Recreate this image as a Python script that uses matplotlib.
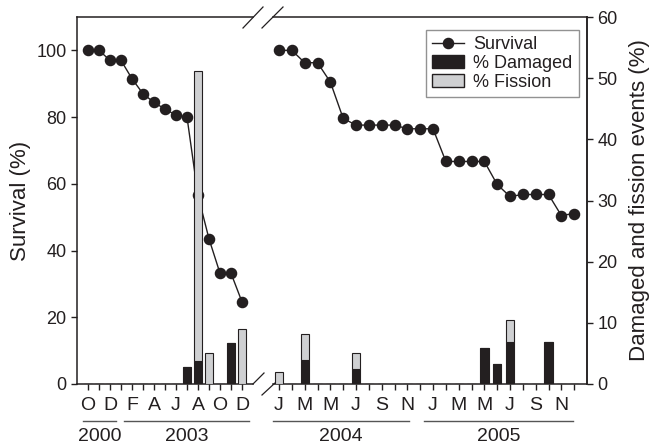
import matplotlib
matplotlib.use('Agg')
import matplotlib.pyplot as plt
from matplotlib.lines import Line2D
from matplotlib.patches import Patch
import matplotlib.transforms as mtransforms

plt.rcParams['font.family'] = ['Liberation Sans', 'DejaVu Sans']

# left block: Oct 2000 - Dec 2000, Jan 2003 - Dec 2003
months_left = ['O', '', 'D', '', 'F', '', 'A', '', 'J', '', 'A', '', 'O', '', 'D']
survival_left = [100, 100, 97, 97, 91.5, 87, 84.4, 82.4, 80.6, 80, 56.5, 43.5, 33.2, 33.2, 24.6]
damaged_left = [0, 0, 0, 0, 0, 0, 0, 0, 0, 2.8, 3.8, 0, 0, 6.7, 0]
fission_left = [0, 0, 0, 0, 0, 0, 0, 0, 0, 0, 47.3, 5.1, 0, 0, 9.0]

# right block: Jan 2004 - Dec 2005
months_right = ['J', '', 'M', '', 'M', '', 'J', '', 'S', '', 'N', ''] * 2
survival_right = [100, 100, 96.3, 96.3, 90.5, 79.6, 77.6, 77.6, 77.6, 77.6, 76.5, 76.5,
                  76.5, 66.7, 66.7, 66.7, 66.7, 59.8, 56.2, 56.8, 56.8, 56.8, 50.5, 51.1]
damaged_right = [0, 0, 3.9, 0, 0, 0, 2.45, 0, 0, 0, 0, 0,
                 0, 0, 0, 0, 5.9, 3.3, 6.9, 0, 0, 6.9, 0, 0]
fission_right = [1.9, 0, 4.2, 0, 0, 0, 2.55, 0, 0, 0, 0, 0,
                 0, 0, 0, 0, 0, 0, 3.6, 0, 0, 0, 0, 0]

years = ['2000', '2003', '2004', '2005']

W, H = 652, 445
ink = '#231f20'
grey = '#cfd0d2'

fig = plt.figure(figsize=(W / 100, H / 100), dpi=100)
bottom = (H - 384) / H
height = 367 / H
ax1 = fig.add_axes([77 / W, bottom, (253 - 77) / W, height])
ax2 = fig.add_axes([273 / W, bottom, (587 - 273) / W, height])
ax1b = ax1.twinx()
ax2b = ax2.twinx()


def draw_block(ax, axb, surv, dmg, fis, labels):
    x = list(range(len(surv)))
    ax.plot(x, surv, '-o', color=ink, lw=1.0, ms=7.3, zorder=3)
    axb.bar(x, dmg, width=0.65, color=ink, edgecolor=ink, lw=0.8)
    axb.bar(x, fis, width=0.65, bottom=dmg, color=grey, edgecolor=ink, lw=0.8)
    ax.set_ylim(0, 110)
    axb.set_ylim(0, 60)
    ax.set_xticks(x)
    ax.set_xticklabels(labels, fontsize=14, color=ink)
    ax.tick_params(axis='x', direction='out', length=4, width=1, pad=5, colors=ink)
    for sp in axb.spines.values():
        sp.set_visible(False)
    for sp in ax.spines.values():
        sp.set_linewidth(1.1)
        sp.set_color(ink)


draw_block(ax1, ax1b, survival_left, damaged_left, fission_left, months_left)
draw_block(ax2, ax2b, survival_right, damaged_right, fission_right, months_right)

ax1.set_xlim(-1, 15)
ax1b.set_xlim(-1, 15)
ax2.set_xlim(-0.47, 24)
ax2b.set_xlim(-0.47, 24)

ax1.spines['right'].set_visible(False)
ax1.set_yticks([0, 20, 40, 60, 80, 100])
ax1.tick_params(axis='y', direction='out', length=4, width=1, labelsize=13, colors=ink)
ax1.set_ylabel('Survival (%)', fontsize=16, color=ink, labelpad=4)
ax1b.set_yticks([])

ax2.spines['left'].set_visible(False)
ax2.set_yticks([])
ax2b.spines['right'].set_visible(True)
ax2b.spines['right'].set_linewidth(1.1)
ax2b.spines['right'].set_color(ink)
ax2b.set_yticks([0, 10, 20, 30, 40, 50, 60])
ax2b.tick_params(axis='y', direction='out', length=4, width=1, labelsize=13, colors=ink)
ax2b.set_ylabel('Damaged and fission events (%)', fontsize=16, color=ink, labelpad=8)

# year underlines and labels
year_spans = [(ax1, -0.45, 2.55), (ax1, 3.27, 14.6), (ax2, -0.47, 10.1), (ax2, 11.3, 22.9)]
for (ax, x0, x1), yr in zip(year_spans, years):
    tr = mtransforms.blended_transform_factory(ax.transData, ax.transAxes)
    ax.plot([x0, x1], [-0.1, -0.1], color='#555555', lw=1.0, transform=tr, clip_on=False)
    ax.text((x0 + x1) / 2, -0.142, yr, transform=tr, ha='center', va='center',
            fontsize=14, color=ink)


# axis break marks
def slash(x0, y0, x1, y1):
    fig.add_artist(Line2D([x0 / W, x1 / W], [1 - y0 / H, 1 - y1 / H],
                          color=ink, lw=0.9, transform=fig.transFigure))


slash(243, 28, 263, 7)
slash(262, 28, 283, 7)
slash(253, 384, 264, 373)
slash(262, 395, 275, 383)

handles = [Line2D([], [], color=ink, marker='o', lw=1.0, ms=7.3),
           Patch(facecolor=ink, edgecolor=ink),
           Patch(facecolor=grey, edgecolor=ink)]
leg = fig.legend(handles, ['Survival', '% Damaged', '% Fission'],
                 loc='upper right', bbox_to_anchor=(579 / W, 1 - 30 / H),
                 fontsize=13, frameon=True, fancybox=False, borderpad=0.35,
                 labelspacing=0.1, handlelength=1.8, handletextpad=0.5,
                 borderaxespad=0)
leg.get_frame().set_edgecolor('#777777')
leg.get_frame().set_linewidth(1.0)
for t in leg.get_texts():
    t.set_color(ink)

fig.savefig('out.png', dpi=100)
